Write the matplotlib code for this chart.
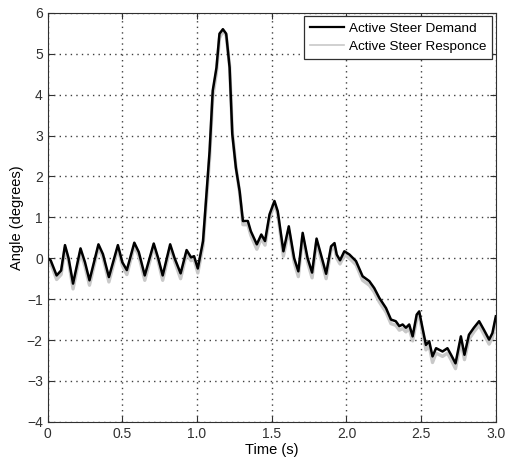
import matplotlib.pyplot as plt

plt.rcParams['font.family'] = ['Liberation Sans', 'DejaVu Sans']

# time samples (s)
time_s = [0.00, 0.02, 0.06, 0.09, 0.116, 0.14, 0.17, 0.22, 0.25, 0.28,
          0.34, 0.37, 0.41, 0.47, 0.50, 0.53, 0.58, 0.61, 0.65, 0.71,
          0.74, 0.77, 0.82, 0.85, 0.89, 0.93, 0.96, 0.98, 1.005, 1.04,
          1.084, 1.105, 1.13, 1.15, 1.173, 1.195, 1.218, 1.236, 1.26, 1.285,
          1.307, 1.34, 1.36, 1.40, 1.43, 1.455, 1.485, 1.518, 1.54, 1.578,
          1.614, 1.65, 1.678, 1.707, 1.74, 1.77, 1.80, 1.83, 1.864, 1.897,
          1.92, 1.935, 1.957, 1.986, 2.02, 2.064, 2.108, 2.153, 2.186, 2.22,
          2.265, 2.298, 2.33, 2.354, 2.376, 2.398, 2.42, 2.443, 2.47, 2.487,
          2.50, 2.532, 2.554, 2.576, 2.60, 2.643, 2.676, 2.70, 2.73, 2.766,
          2.79, 2.82, 2.853, 2.888, 2.92, 2.955, 2.977, 3.00]

# steer angle demand (deg)
demand = [0.0, -0.05, -0.42, -0.30, 0.32, 0.0, -0.62, 0.24, -0.10, -0.54,
          0.34, 0.10, -0.46, 0.32, -0.10, -0.29, 0.38, 0.15, -0.42, 0.36,
          0.0, -0.42, 0.34, 0.0, -0.37, 0.20, 0.02, 0.05, -0.25, 0.42,
          2.62, 4.10, 4.66, 5.49, 5.60, 5.49, 4.66, 3.03, 2.21, 1.64,
          0.91, 0.91, 0.66, 0.34, 0.58, 0.42, 1.07, 1.40, 1.15, 0.17,
          0.78, 0.0, -0.32, 0.62, 0.0, -0.35, 0.48, 0.08, -0.38, 0.29,
          0.37, 0.09, -0.05, 0.17, 0.09, -0.07, -0.44, -0.56, -0.73, -0.97,
          -1.22, -1.50, -1.54, -1.66, -1.62, -1.70, -1.62, -1.91, -1.38, -1.30,
          -1.54, -2.12, -2.03, -2.40, -2.20, -2.28, -2.20, -2.36, -2.57, -1.91,
          -2.36, -1.87, -1.70, -1.54, -1.75, -1.99, -1.83, -1.42]

# steer angle response (deg)
response = [-0.05, -0.12, -0.52, -0.40, 0.25, -0.08, -0.75, 0.15, -0.20, -0.66,
            0.27, 0.02, -0.58, 0.25, -0.18, -0.40, 0.30, 0.06, -0.54, 0.28,
            -0.08, -0.54, 0.26, -0.08, -0.50, 0.12, -0.06, -0.03, -0.36, 0.30,
            2.45, 3.95, 4.55, 5.38, 5.55, 5.45, 4.70, 3.10, 2.25, 1.60,
            0.82, 0.82, 0.56, 0.22, 0.48, 0.32, 0.98, 1.32, 1.08, 0.05,
            0.68, -0.10, -0.45, 0.52, -0.10, -0.48, 0.38, -0.02, -0.50, 0.20,
            0.28, 0.0, -0.14, 0.08, 0.0, -0.16, -0.54, -0.66, -0.83, -1.07,
            -1.32, -1.60, -1.64, -1.76, -1.72, -1.80, -1.72, -2.02, -1.50, -1.40,
            -1.64, -2.24, -2.14, -2.55, -2.32, -2.40, -2.32, -2.48, -2.70, -2.02,
            -2.48, -1.98, -1.80, -1.64, -1.86, -2.10, -1.94, -1.50]

fig = plt.figure(figsize=(5.07, 4.59), dpi=100)
ax = fig.add_axes([0.094, 0.081, 0.884, 0.891])

resp_line, = ax.plot(time_s, response, color='#c8c8c8', lw=2.4,
                     solid_joinstyle='round')
dem_line, = ax.plot(time_s, demand, color='black', lw=1.8,
                    solid_joinstyle='round')

ax.set_xlim(0, 3.0)
ax.set_ylim(-4, 6)
ax.set_xticks([0, 0.5, 1.0, 1.5, 2.0, 2.5, 3.0])
ax.set_xticklabels(['0', '0.5', '1.0', '1.5', '2.0', '2.5', '3.0'])
ax.set_yticks(range(-4, 7))
ax.tick_params(direction='in', top=True, right=True, labelsize=10, length=4,
               colors='#303030')
ax.grid(True, linestyle=(0, (1, 3)), color='#404040', linewidth=1.0)
for s in ax.spines.values():
    s.set_color('#303030')

ax.set_xlabel('Time (s)', fontsize=10.5, labelpad=2)
ax.set_ylabel('Angle (degrees)', fontsize=10.5, labelpad=2)

# thin handles like the original legend
from matplotlib.lines import Line2D
h_dem = Line2D([], [], color='black', lw=1.6)
h_resp = Line2D([], [], color='#c8c8c8', lw=1.2)
leg = ax.legend([h_dem, h_resp],
                ['Active Steer Demand', 'Active Steer Responce'],
                loc='upper right', fontsize=9.7, fancybox=False,
                framealpha=1, edgecolor='#303030', borderaxespad=0.25,
                handlelength=2.5, borderpad=0.45, labelspacing=0.45,
                handletextpad=0.4)
leg.get_frame().set_linewidth(0.9)

plt.savefig('out.png', dpi=100)
